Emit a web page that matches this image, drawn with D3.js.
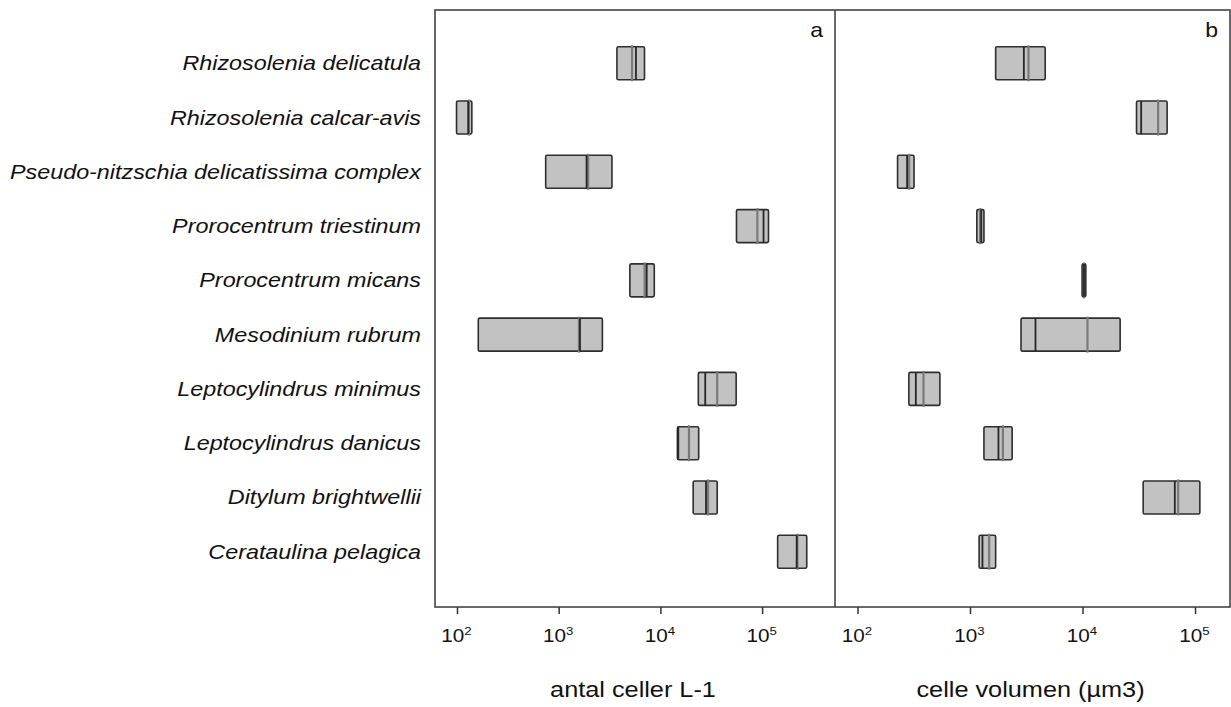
<!DOCTYPE html>
<html>
<head>
<meta charset="utf-8">
<script src="https://cdn.jsdelivr.net/npm/d3@7"></script>
<style>
  body { margin: 0; background: #fff; }
  text { font-family: "Liberation Sans", Arial, sans-serif; fill: #111; }
</style>
</head>
<body>
<div class="canvas"></div>
<script>
// species, top to bottom
const species = [
  'Rhizosolenia delicatula',
  'Rhizosolenia calcar-avis',
  'Pseudo-nitzschia delicatissima complex',
  'Prorocentrum triestinum',
  'Prorocentrum micans',
  'Mesodinium rubrum',
  'Leptocylindrus minimus',
  'Leptocylindrus danicus',
  'Ditylum brightwellii',
  'Cerataulina pelagica'
];

// panel a - antal celler L-1 (box edges, median, mean)
const cellsQ1     = [3740, 99, 745, 56000, 5010, 162, 23600, 14700, 21000, 142200];
const cellsQ3     = [6980, 140, 3340, 115600, 8710, 2690, 55600, 23800, 36200, 274800];
const cellsMedian = [5750, 129, 1880, 103300, 7330, 1620, 27600, 15000, 28100, 218800];
const cellsMean   = [5260, 131, 1950, 89800, 7000, 1580, 36200, 19100, 29400, 222300];

// panel b - celle volumen (µm3)
const volQ1     = [1690, 30200, 227, 1150, 9910, 2840, 286, 1330, 34600, 1205];
const volQ3     = [4660, 56500, 318, 1330, 10700, 21600, 540, 2370, 110400, 1690];
const volMedian = [3010, 33200, 276, 1260, 10300, 3820, 330, 1790, 66100, 1290];
const volMean   = [3310, 47000, 288, 1230, 10300, 11070, 386, 1960, 70800, 1480];

const tickVals = [1e2, 1e3, 1e4, 1e5];
const tickExp = ['2', '3', '4', '5'];

const dims = { width: 1231, height: 707, top: 10, bottom: 607 };
const stretch = 1.15; // the original text is a bit wide

const svg = d3.select('.canvas')
  .append('svg')
  .attr('width', dims.width)
  .attr('height', dims.height);

const y = d3.scalePoint()
  .domain(species)
  .range([9, 606])
  .padding(1);
const boxH = 33;

const panels = [
  { key: 'a', left: 435, right: 835, domain: [60.8, 521000],
    q1: cellsQ1, q3: cellsQ3, med: cellsMedian, mean: cellsMean, title: 'antal celler L-1' },
  { key: 'b', left: 835, right: 1230, domain: [63.1, 204600],
    q1: volQ1, q3: volQ3, med: volMedian, mean: volMean, title: 'celle volumen (µm3)' }
];

panels.forEach(p => {
  const x = d3.scaleLog().domain(p.domain).range([p.left, p.right]);
  const g = svg.append('g');

  const rows = species.map((s, i) => ({
    name: s, q1: p.q1[i], q3: p.q3[i], med: p.med[i], mean: p.mean[i]
  }));

  // boxes
  g.selectAll('rect.box')
    .data(rows)
    .enter()
    .append('rect')
    .attr('class', 'box')
    .attr('x', d => x(d.q1))
    .attr('y', d => y(d.name) - boxH / 2)
    .attr('width', d => Math.max(1, x(d.q3) - x(d.q1)))
    .attr('height', boxH)
    .attr('rx', 1.5)
    .attr('fill', '#c2c2c2')
    .attr('stroke', '#2e2e2e')
    .attr('stroke-width', 1.6);

  // mean line (grey)
  g.selectAll('line.mean')
    .data(rows)
    .enter()
    .append('line')
    .attr('x1', d => x(d.mean))
    .attr('x2', d => x(d.mean))
    .attr('y1', d => y(d.name) - boxH / 2 - 1.5)
    .attr('y2', d => y(d.name) + boxH / 2 + 1.5)
    .attr('stroke', '#7a7a7a')
    .attr('stroke-width', 2.2);

  // median line (dark)
  g.selectAll('line.med')
    .data(rows)
    .enter()
    .append('line')
    .attr('x1', d => x(d.med))
    .attr('x2', d => x(d.med))
    .attr('y1', d => y(d.name) - boxH / 2)
    .attr('y2', d => y(d.name) + boxH / 2)
    .attr('stroke', '#262626')
    .attr('stroke-width', 1.8);

  // axis
  const axis = d3.axisBottom(x)
    .tickValues(tickVals)
    .tickSize(7)
    .tickFormat('');
  const ax = svg.append('g')
    .attr('transform', `translate(0, ${dims.bottom})`)
    .call(axis);
  ax.select('.domain').remove();
  ax.selectAll('.tick line').attr('stroke', '#333').attr('stroke-width', 1.5);

  // tick labels 10^n
  ax.selectAll('.tick').each(function(d, i) {
    const t = d3.select(this).append('text')
      .attr('transform', `translate(-1, 35) scale(${stretch},1)`)
      .attr('text-anchor', 'middle')
      .attr('font-size', 18);
    t.append('tspan').text('10');
    t.append('tspan').attr('font-size', 11.5).attr('dy', -7).text(tickExp[i]);
  });

  // axis title
  svg.append('text')
    .attr('transform', `translate(${(p.left + p.right) / 2 - 2}, 697) scale(${stretch},1)`)
    .attr('text-anchor', 'middle')
    .attr('font-size', 22)
    .text(p.title);

  // panel letter
  svg.append('text')
    .attr('transform', `translate(${p.right - 12}, 37) scale(${stretch},1)`)
    .attr('text-anchor', 'end')
    .attr('font-size', 20)
    .text(p.key);
});

// frame + divider
svg.append('rect')
  .attr('x', 435).attr('y', dims.top)
  .attr('width', 1230 - 435).attr('height', dims.bottom - dims.top)
  .attr('fill', 'none')
  .attr('stroke', '#444')
  .attr('stroke-width', 1.6);
svg.append('line')
  .attr('x1', 835).attr('x2', 835)
  .attr('y1', dims.top).attr('y2', dims.bottom)
  .attr('stroke', '#444')
  .attr('stroke-width', 1.6);

// species labels
svg.append('g')
  .selectAll('text')
  .data(species)
  .enter()
  .append('text')
  .attr('transform', d => `translate(421, ${y(d) + 7}) scale(${stretch},1)`)
  .attr('text-anchor', 'end')
  .attr('font-size', 20.3)
  .attr('font-style', 'italic')
  .text(d => d);
</script>
</body>
</html>
